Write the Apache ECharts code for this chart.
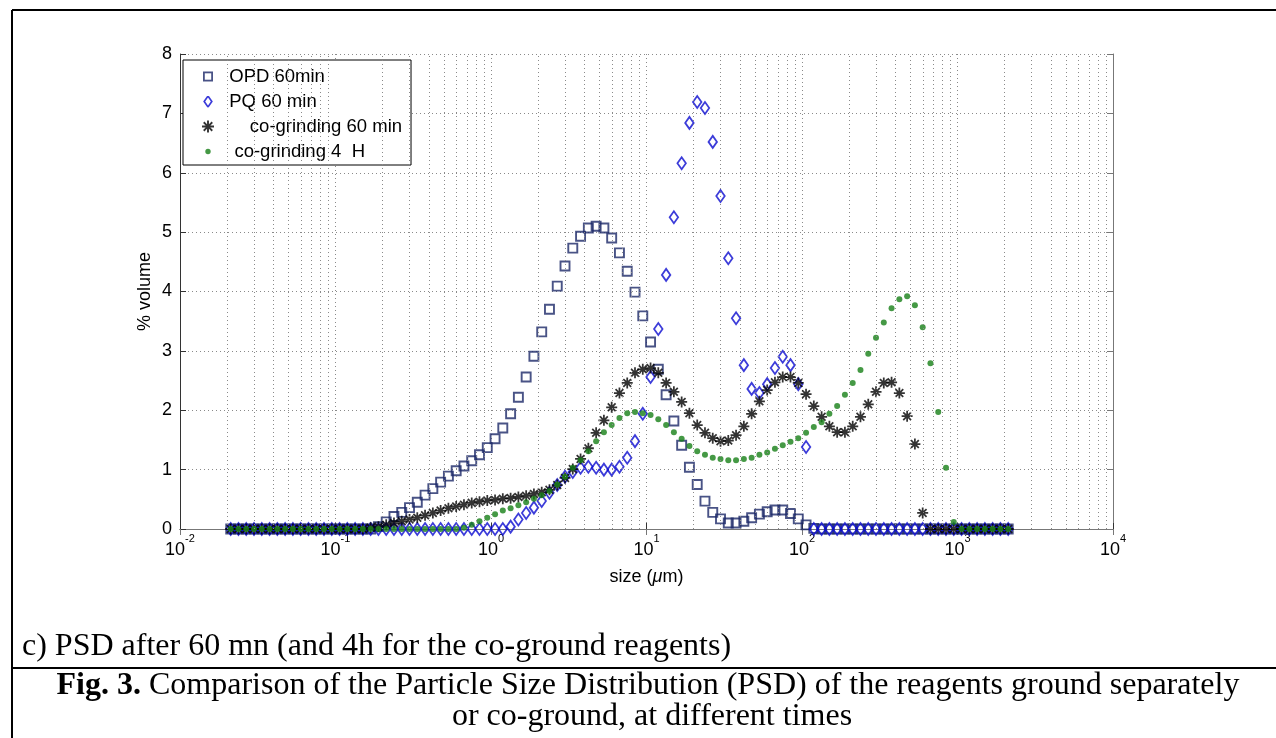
<!DOCTYPE html>
<html><head><meta charset="utf-8">
<script src="https://cdn.jsdelivr.net/npm/echarts/dist/echarts.min.js"></script>
<style>html,body{margin:0;padding:0;background:#fff;}#c{width:1276px;height:738px;}</style>
</head><body><div id="c"></div>
<script>
// particle size classes (µm), geometric centres of the laser-diffraction bins
const SIZES = [
  0.02119,0.02377,0.02667,0.02992,0.03357,0.03767,0.04227,0.04743,0.05322,0.05971,
  0.06700,0.07517,0.08434,0.09464,0.1062,0.1191,0.1337,0.1500,0.1683,0.1888,
  0.2119,0.2377,0.2667,0.2992,0.3357,0.3767,0.4227,0.4743,0.5322,0.5971,
  0.6700,0.7517,0.8434,0.9464,1.062,1.191,1.337,1.500,1.683,1.888,
  2.119,2.377,2.667,2.992,3.357,3.767,4.227,4.743,5.322,5.971,
  6.700,7.517,8.434,9.464,10.62,11.91,13.37,15.00,16.83,18.88,
  21.19,23.77,26.67,29.92,33.57,37.67,42.27,47.43,53.22,59.71,
  67.00,75.17,84.34,94.64,106.2,119.1,133.7,150.0,168.3,188.8,
  211.9,237.7,266.7,299.2,335.7,376.7,422.7,474.3,532.2,597.1,
  670.0,751.7,843.4,946.4,1062,1191,1337,1500,1683,1888,
  2119
];
// % volume
const OPD_60 = [
  0,0,0,0,0,0,0,0,0,0,
  0,0,0,0,0,0,0,0,0,0.04,
  0.12,0.21,0.28,0.36,0.45,0.57,0.68,0.79,0.89,0.98,
  1.06,1.15,1.25,1.37,1.52,1.70,1.94,2.22,2.56,2.91,
  3.32,3.70,4.09,4.43,4.73,4.93,5.07,5.10,5.07,4.90,
  4.65,4.34,3.99,3.59,3.15,2.69,2.26,1.82,1.41,1.04,
  0.75,0.47,0.28,0.17,0.10,0.10,0.13,0.19,0.25,0.29,
  0.32,0.32,0.26,0.17,0.07,0.01,0,0,0,0,
  0,0,0,0,0,0,0,0,0,0,
  0,0,0,0,0,0,0,0,0,0,
  0
];
const PQ_60 = [
  0,0,0,0,0,0,0,0,0,0,
  0,0,0,0,0,0,0,0,0,0,
  0,0,0,0,0,0,0,0,0,0,
  0,0,0,0,0,0,0.04,0.16,0.27,0.36,
  0.47,0.61,0.74,0.88,0.96,1.03,1.05,1.03,1.00,1.00,
  1.05,1.20,1.48,1.94,2.56,3.37,4.28,5.25,6.16,6.84,
  7.19,7.09,6.52,5.61,4.56,3.55,2.76,2.36,2.29,2.44,
  2.71,2.90,2.76,2.44,1.38,0,0,0,0,0,
  0,0,0,0,0,0,0,0,0,0,
  0,0,0,0,0,0,0,0,0,0,
  0
];
const COGRIND_60 = [
  0,0,0,0,0,0,0,0,0,0,
  0,0,0,0,0,0,0,0,0.02,0.04,
  0.07,0.10,0.13,0.16,0.19,0.23,0.27,0.31,0.35,0.38,
  0.41,0.44,0.46,0.48,0.49,0.51,0.52,0.54,0.56,0.59,
  0.62,0.66,0.74,0.86,1.01,1.18,1.36,1.62,1.83,2.05,
  2.29,2.46,2.63,2.69,2.71,2.63,2.46,2.31,2.14,1.95,
  1.75,1.62,1.53,1.48,1.49,1.58,1.73,1.94,2.15,2.34,
  2.47,2.56,2.56,2.46,2.27,2.07,1.89,1.73,1.63,1.63,
  1.73,1.89,2.10,2.31,2.46,2.47,2.29,1.90,1.43,0.27,
  0,0,0,0,0,0,0,0,0,0,
  0
];
const COGRIND_4H = [
  0,0,0,0,0,0,0,0,0,0,
  0,0,0,0,0,0,0,0,0,0,
  0,0,0,0,0,0,0,0,0,0,
  0.02,0.07,0.13,0.19,0.25,0.31,0.35,0.40,0.45,0.51,
  0.57,0.64,0.75,0.88,1.03,1.16,1.31,1.48,1.63,1.75,
  1.87,1.95,1.97,1.95,1.92,1.85,1.75,1.63,1.52,1.40,
  1.31,1.25,1.20,1.18,1.16,1.16,1.18,1.20,1.25,1.29,
  1.35,1.41,1.47,1.53,1.62,1.72,1.80,1.94,2.07,2.26,
  2.46,2.68,2.95,3.22,3.48,3.72,3.87,3.92,3.77,3.40,
  2.79,1.97,1.03,0.12,0,0,0,0,0,0,
  0
];
const SERIES_NAMES = ['  OPD 60min', '  PQ 60 min', '      co-grinding 60 min', '   co-grinding 4  H'];
const X_MIN = 0.01, X_MAX = 10000;
const Y_TICKS = [0,1,2,3,4,5,6,7,8];

// minor log grid positions (2..9 x 10^n)
const MINOR_GRID = [];
for (let e = -2; e <= 3; e++) for (let m = 2; m <= 9; m++) MINOR_GRID.push(+(m * Math.pow(10, e)).toPrecision(3));

const C_OPD = '#1c2868', C_PQ = '#0b0bd0', C_CO60 = '#000000', C_CO4H = '#167f16';

function asteriskPath() {
  // 8-armed asterisk with rectangular arms
  const L = 5, w = 0.8, rin = w / Math.sin(Math.PI / 8);
  const pts = [];
  for (let i = 0; i < 8; i++) {
    const t = i * Math.PI / 4;
    const c = Math.cos(t), s = Math.sin(t);
    pts.push([L * c + w * s, L * s - w * c]);
    pts.push([L * c - w * s, L * s + w * c]);
    const ti = t + Math.PI / 8;
    pts.push([rin * Math.cos(ti), rin * Math.sin(ti)]);
  }
  return 'path://M' + pts.map(p => p[0].toFixed(3) + ',' + p[1].toFixed(3)).join('L') + 'Z';
}
const STAR = asteriskPath();
const svgIcon = body => 'image://data:image/svg+xml;charset=utf-8,' +
  encodeURIComponent("<svg xmlns='http://www.w3.org/2000/svg' width='12' height='12' viewBox='0 0 12 12'>" + body + "</svg>");
const LEGEND_ICONS = [
  svgIcon("<rect x='1.9' y='1.9' width='8.2' height='8.2' fill='none' stroke='" + C_OPD + "' stroke-width='1.8'/>"),
  svgIcon("<polygon points='6,0.6 9.8,6 6,11.4 2.2,6' fill='none' stroke='" + C_PQ + "' stroke-width='1.7'/>"),
  STAR,
  svgIcon("<circle cx='6' cy='6' r='2.7' fill='" + C_CO4H + "'/>")
];
const pairs = arr => SIZES.map((s, i) => [s, arr[i]]);

const FONT = '"Liberation Sans", Arial, Helvetica, sans-serif';
const SERIF = '"Liberation Serif", "Times New Roman", serif';
const GRID_STYLE = { color: '#8a8a8a', width: 1, type: [1, 3] };

const chart = echarts.init(document.getElementById('c'), null, { renderer: 'canvas' });
chart.setOption({
  animation: false,
  backgroundColor: '#fff',
  grid: { left: 180, top: 54, width: 933, height: 475, outerBoundsMode: 'none', containLabel: false },
  legend: {
    orient: 'vertical', left: 183, top: 60,
    padding: [7, 9, 4, 19], itemGap: 6, itemWidth: 12, itemHeight: 12,
    backgroundColor: '#fff', borderColor: '#000', borderWidth: 1, borderRadius: 0,
    textStyle: { fontFamily: FONT, fontSize: 18.5, color: '#000', lineHeight: 18 },
    data: SERIES_NAMES.map((n, i) => ({ name: n, icon: LEGEND_ICONS[i] })),
    selectedMode: false
  },
  xAxis: [{
    type: 'log', logBase: 10, min: X_MIN, max: X_MAX,
    name: 'size ({i|μ}m)', nameLocation: 'middle', nameGap: 39, nameMoveOverlap: false,
    nameTextStyle: { fontFamily: FONT, fontSize: 18, color: '#000', rich: { i: { fontFamily: FONT, fontSize: 18, fontStyle: 'italic', color: '#000' } } },
    axisLine: { show: true, onZero: false, lineStyle: { color: '#333', width: 1 } },
    axisTick: { show: true, inside: true, length: 6, lineStyle: { color: '#333' } },
    axisLabel: {
      margin: 4, color: '#000',
      formatter: v => '{b|10}{s|' + Math.round(Math.log10(v)) + '}',
      rich: {
        b: { fontFamily: FONT, fontSize: 18, lineHeight: 26, verticalAlign: 'bottom', color: '#000' },
        s: { fontFamily: FONT, fontSize: 11, lineHeight: 11, verticalAlign: 'top', color: '#000' }
      }
    },
    splitLine: { show: true, lineStyle: GRID_STYLE }
  }, {
    type: 'log', logBase: 10, min: X_MIN, max: X_MAX, position: 'top',
    axisLine: { show: true, lineStyle: { color: '#777', width: 1 } },
    axisTick: { show: true, inside: true, length: 6, lineStyle: { color: '#777' } },
    axisLabel: { show: false }, splitLine: { show: false }
  }],
  yAxis: [{
    type: 'value', min: 0, max: 8, interval: 1,
    name: '% volume', nameLocation: 'middle', nameGap: 26, nameMoveOverlap: false,
    nameTextStyle: { fontFamily: FONT, fontSize: 18, color: '#000' },
    axisLine: { show: true, lineStyle: { color: '#333', width: 1 } },
    axisTick: { show: true, inside: true, length: 6, lineStyle: { color: '#333' } },
    axisLabel: { margin: 8, fontFamily: FONT, fontSize: 18, color: '#000',
      formatter: v => Y_TICKS.includes(v) ? String(v) : '' },
    splitLine: { show: true, lineStyle: GRID_STYLE }
  }, {
    type: 'value', min: 0, max: 8, interval: 1, position: 'right',
    axisLine: { show: true, lineStyle: { color: '#777', width: 1 } },
    axisTick: { show: true, inside: true, length: 6, lineStyle: { color: '#777' } },
    axisLabel: { show: false }, splitLine: { show: false }
  }],
  series: [
    {
      type: 'line', data: [], silent: true, z: 1,
      markLine: {
        silent: true, symbol: ['none', 'none'], label: { show: false }, animation: false,
        lineStyle: GRID_STYLE, emphasis: { disabled: true },
        data: MINOR_GRID.map(v => ({ xAxis: v }))
      }
    },
    {
      name: SERIES_NAMES[0], type: 'scatter', data: pairs(OPD_60), z: 3,
      symbol: 'rect', symbolSize: 9,
      itemStyle: { color: 'rgba(0,0,0,0)', borderColor: C_OPD, borderWidth: 1.9 }
    },
    {
      name: SERIES_NAMES[1], type: 'scatter', data: pairs(PQ_60), z: 3,
      symbol: 'diamond', symbolSize: [8.5, 12],
      itemStyle: { color: 'rgba(0,0,0,0)', borderColor: C_PQ, borderWidth: 1.8 }
    },
    {
      name: SERIES_NAMES[2], type: 'scatter', data: pairs(COGRIND_60), z: 3,
      symbol: STAR, symbolSize: 11,
      itemStyle: { color: C_CO60 }
    },
    {
      name: SERIES_NAMES[3], type: 'scatter', data: pairs(COGRIND_4H), z: 3,
      symbol: 'circle', symbolSize: 6,
      itemStyle: { color: C_CO4H }
    }
  ],
  graphic: [
    { type: 'line', silent: true, shape: { x1: 12, y1: 10, x2: 1276, y2: 10 }, style: { stroke: '#000', lineWidth: 2 } },
    { type: 'line', silent: true, shape: { x1: 12, y1: 10, x2: 12, y2: 738 }, style: { stroke: '#000', lineWidth: 2 } },
    { type: 'line', silent: true, shape: { x1: 12, y1: 668, x2: 1276, y2: 668 }, style: { stroke: '#000', lineWidth: 2 } },
    { type: 'text', silent: true, x: 22, y: 647,
      style: { text: 'c) PSD after 60 mn (and 4h for the co-ground reagents)', font: '32px ' + SERIF, fill: '#000', textAlign: 'left', textVerticalAlign: 'middle' } },
    { type: 'text', silent: true, x: 648, y: 686,
      style: { text: '{b|Fig. 3.} Comparison of the Particle Size Distribution (PSD) of the reagents ground separately',
        font: '32px ' + SERIF, fill: '#000', textAlign: 'center', textVerticalAlign: 'middle',
        rich: { b: { fontFamily: SERIF, fontSize: 32, fontWeight: 'bold' } } } },
    { type: 'text', silent: true, x: 652, y: 717,
      style: { text: 'or co-ground, at different times', font: '32px ' + SERIF, fill: '#000', textAlign: 'center', textVerticalAlign: 'middle' } }
  ]
});
</script>
</body></html>
